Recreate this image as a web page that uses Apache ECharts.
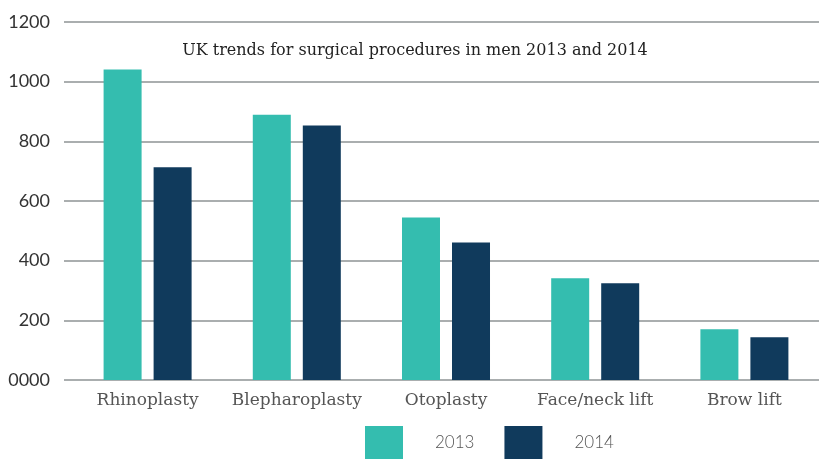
<!DOCTYPE html>
<html><head><meta charset="utf-8">
<script src="https://cdn.jsdelivr.net/npm/echarts@6/dist/echarts.min.js"></script>
<style>html,body{margin:0;padding:0;background:#fff}#c{width:819px;height:459px}</style>
</head><body><div id="c"></div>
<script>
var categories = ['Rhinoplasty', 'Blepharoplasty', 'Otoplasty', 'Face/neck lift', 'Brow lift'];
var values2013 = [1041, 889, 545, 341, 170];
var values2014 = [713, 853, 461, 324, 143];
var yTicks = [0, 200, 400, 600, 800, 1000, 1200];
var titleText = 'UK trends for surgical procedures in men 2013 and 2014';

var chart = echarts.init(document.getElementById('c'));
chart.setOption({
  animation: false,
  title: {
    text: titleText, left: 410, top: 38, textAlign: 'center',
    textStyle: {fontFamily: 'DejaVu Serif', fontWeight: 'normal', fontSize: 16, color: '#222'}
  },
  legend: {
    left: 360, top: 421, itemWidth: 38, itemHeight: 33, itemGap: 30,
    icon: 'rect',
    textStyle: {fontFamily: 'Lato', fontWeight: 300, fontSize: 17, color: '#555', padding: [0, 0, 0, 27]},
    data: ['2013', '2014']
  },
  grid: [
    {left: 64, right: 0, top: 22, bottom: 79},
    {left: 73, right: 0, top: 22, bottom: 79}
  ],
  xAxis: [
    {gridIndex: 0, type: 'value', show: false, min: 0, max: 1},
    {gridIndex: 1, type: 'category', data: categories,
     axisLine: {show: false}, axisTick: {show: false},
     axisLabel: {interval: 0, fontFamily: 'DejaVu Serif', fontWeight: 'normal', fontSize: 17, color: '#555', margin: 12}}
  ],
  yAxis: [
    {gridIndex: 0, type: 'value', min: 0, max: 1200, interval: 200,
     axisLine: {show: false}, axisTick: {show: false},
     axisLabel: {margin: 14, fontFamily: 'Lato', fontSize: 18, color: '#333',
       formatter: function (v) { return v === yTicks[0] ? '0000' : String(v); }},
     splitLine: {lineStyle: {color: '#8e9394', width: 1.5}}},
    {gridIndex: 1, type: 'value', min: 0, max: 1200, interval: 200, show: false, splitLine: {show: false}}
  ],
  series: [
    {name: '2013', type: 'bar', xAxisIndex: 1, yAxisIndex: 1, data: values2013,
     barWidth: 38, barGap: '31.6%', itemStyle: {color: '#34bdaf'}},
    {name: '2014', type: 'bar', xAxisIndex: 1, yAxisIndex: 1, data: values2014,
     barWidth: 38, barGap: '31.6%', itemStyle: {color: '#103a5c'}}
  ]
});
</script></body></html>
